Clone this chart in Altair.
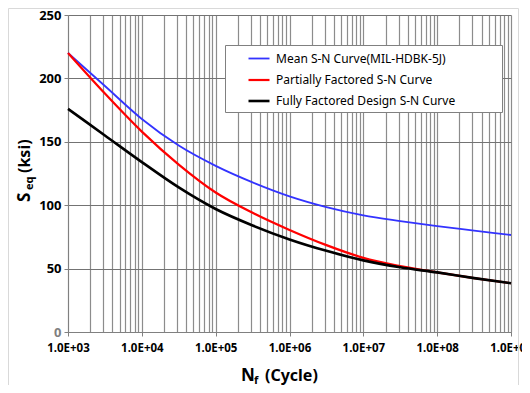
import altair as alt
import pandas as pd

exps = [3, 3.5, 4, 4.5, 5, 5.5, 6, 6.5, 7, 7.5, 8, 8.5, 9]
mean_sn = [220, 194, 168, 147, 131, 118, 107, 98.5, 92, 87.5, 83.5, 80, 76.5]
partial_sn = [220, 188, 158, 132, 110, 94, 80.5, 68.5, 58.5, 52, 47, 42.5, 38.5]
fully_sn = [176, 155, 134, 114, 97, 84, 73, 64, 56.5, 51, 47, 42.5, 38.5]
series_names = [
    "Mean S-N Curve(MIL-HDBK-5J)",
    "Partially Factored S-N Curve",
    "Fully Factored Design S-N Curve",
]
series_colors = ["#3333ff", "#ff0000", "#000000"]
y_ticks = [0, 50, 100, 150, 200, 250]
x_grid = [m * 10 ** k for k in range(3, 9) for m in range(1, 10)] + [10 ** 9]

rows = []
for name, vals in zip(series_names, [mean_sn, partial_sn, fully_sn]):
    for e, v in zip(exps, vals):
        rows.append({"N": 10 ** e, "S": v, "series": name})
df = pd.DataFrame(rows)

decade = "abs(log(datum.value)/LN10 - round(log(datum.value)/LN10)) < 0.001"

x_axis = alt.Axis(
    values=x_grid,
    labelExpr="(" + decade + ") ? '1.0E+0' + round(log(datum.value)/LN10) : ''",
    labelOverlap=False, labelFlush=False, labelBound=False,
    labelFont="Noto Sans", labelFontSize=11.5, labelFontWeight="bold",
    labelColor="#000000", labelPadding=6,
    grid=True, gridColor="#8c8c8c", gridWidth=1.2,
    domainColor="#808080", domainWidth=1,
    tickColor="#808080", tickSize=4,
    tickOpacity={"condition": {"test": decade, "value": 1}, "value": 0},
    title=None,
)
y_axis = alt.Axis(
    values=y_ticks,
    labelFont="Noto Sans", labelFontSize=13, labelFontWeight="bold",
    labelColor={"condition": {"test": "datum.value == 0", "value": "#7f7f7f"}, "value": "#000000"},
    labelPadding=3,
    grid=True, gridColor="#737373", gridWidth=1.2,
    domainColor="#808080", tickColor="#808080", tickSize=4,
    title=None,
)

lines = alt.Chart(df).mark_line(interpolate="monotone").encode(
    x=alt.X("N:Q", scale=alt.Scale(type="log", domain=[1000, 10 ** 9]), axis=x_axis),
    y=alt.Y("S:Q", scale=alt.Scale(domain=[0, 250]), axis=y_axis),
    color=alt.Color(
        "series:N",
        scale=alt.Scale(domain=series_names, range=series_colors),
        sort=series_names,
        legend=alt.Legend(
            title=None, orient="none", legendX=157, legendY=30,
            symbolType="stroke", symbolSize=441, symbolStrokeWidth=3,
            symbolOffset=20,
            labelFont="Noto Sans", labelFontSize=12, labelColor="#000000",
            labelOffset=5, labelLimit=400, rowPadding=3,
            padding=2, fillColor="transparent", strokeColor="transparent",
        ),
    ),
    strokeWidth=alt.StrokeWidth(
        "series:N",
        scale=alt.Scale(domain=series_names, range=[1.8, 2.6, 2.6]),
        legend=None,
    ),
)

one = pd.DataFrame({"t": [1]})
txt = alt.Chart(one)
legend_box = txt.mark_rect(fill="#ffffff", stroke="#808080", strokeWidth=1).encode(
    x=alt.value(157.5), x2=alt.value(434.5), y=alt.value(30.5), y2=alt.value(97.5))
y_s = txt.mark_text(text="S", font="Noto Sans", fontSize=17, fontWeight="bold",
                    angle=270, align="left", baseline="alphabetic", color="#000").encode(
    x=alt.value(-38), y=alt.value(187))
y_eq = txt.mark_text(text="eq", font="Noto Sans", fontSize=11, fontWeight="bold",
                     angle=270, align="left", baseline="alphabetic", color="#000").encode(
    x=alt.value(-35), y=alt.value(175))
y_ksi = txt.mark_text(text="(ksi)", font="Noto Sans", fontSize=16, fontWeight="bold",
                      angle=270, align="left", baseline="alphabetic", color="#000").encode(
    x=alt.value(-38), y=alt.value(158))
x_n = txt.mark_text(text="N", font="Noto Sans", fontSize=17, fontWeight="bold",
                    align="left", baseline="alphabetic", color="#000").encode(
    x=alt.value(173), y=alt.value(366))
x_f = txt.mark_text(text="f", font="Noto Sans", fontSize=11, fontWeight="bold",
                    align="left", baseline="alphabetic", color="#000").encode(
    x=alt.value(186), y=alt.value(369))
x_cyc = txt.mark_text(text="(Cycle)", font="Noto Sans", fontSize=16, fontWeight="bold",
                      align="left", baseline="alphabetic", color="#000").encode(
    x=alt.value(197), y=alt.value(366))
frame = txt.mark_rect(fill=None, stroke="#d9d9d9", strokeWidth=1).encode(
    x=alt.value(-59.5), x2=alt.value(450.5), y=alt.value(-6.5), y2=alt.value(400))

chart = alt.layer(frame, legend_box, lines, y_s, y_eq, y_ksi, x_n, x_f, x_cyc).properties(
    width=443, height=317,
    autosize=alt.AutoSizeParams(type="none"),
    padding={"left": 60, "top": 7, "right": 11, "bottom": 53},
).configure_view(stroke=None)

chart.save("out.html", embed_options={"renderer": "svg", "actions": False})
